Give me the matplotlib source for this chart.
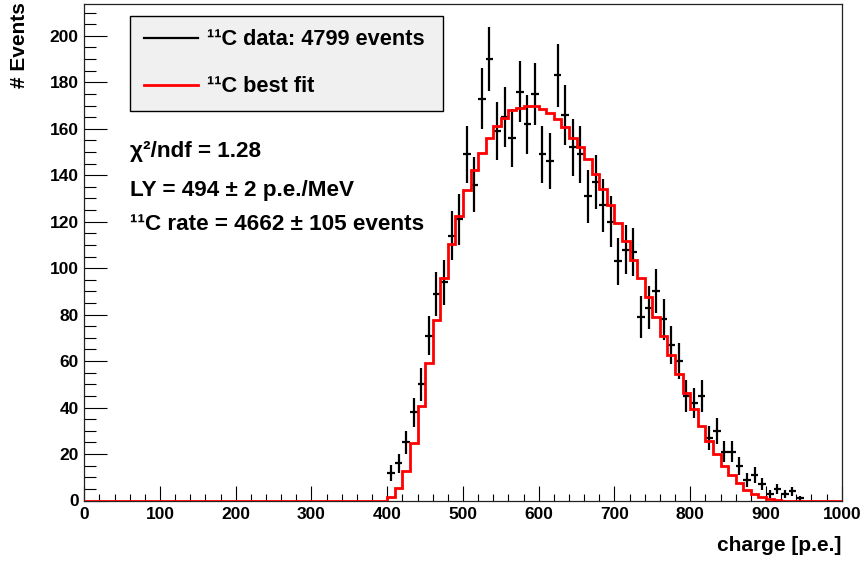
import numpy as np
import matplotlib
matplotlib.use("Agg")
import matplotlib.pyplot as plt
from matplotlib.lines import Line2D
from matplotlib.ticker import MultipleLocator

plt.rcParams['font.family'] = ['Liberation Sans', 'DejaVu Sans']
plt.rcParams['font.weight'] = 'bold'

# ---- data: 11C charge spectrum (bin width 10 p.e.) ----
data_charge = [405, 415, 425, 435, 445, 455, 465, 475, 485, 495,
               505, 515, 525, 535, 545, 555, 565, 575, 585, 595,
               605, 615, 625, 635, 645, 655, 665, 675, 685, 695,
               705, 715, 725, 735, 745, 755, 765, 775, 785, 795,
               805, 815, 825, 835, 845, 855, 865, 875, 885, 895,
               905, 915, 925, 935, 945]
data_counts = [12, 16, 25, 38, 50, 71, 89, 94, 114, 121,
               149, 136, 173, 190, 159, 165, 156, 176, 162, 175,
               149, 146, 183, 166, 152, 149, 131, 137, 127, 120,
               103, 108, 107, 79, 83, 90, 78, 67, 60, 45,
               42, 45, 27, 30, 21, 21, 15, 9, 11, 7,
               3, 5, 3, 4, 1]

# best-fit histogram, bins of 10 p.e. starting at 400
fit_start = 400
fit_values = [1.6, 5.5, 12.7, 24.9, 40.8, 59.0, 77.6, 95.6, 110.3, 122.5,
              133.5, 142.2, 149.6, 156.2, 161.1, 164.8, 168.0, 169.1, 169.7, 169.7,
              168.7, 166.8, 164.1, 160.8, 156.2, 152.2, 146.8, 140.4, 134.0, 127.1,
              119.6, 111.8, 103.7, 95.6, 87.4, 79.1, 70.8, 62.6, 54.4, 46.4,
              39.2, 32.0, 25.7, 20.0, 14.8, 11.0, 7.4, 4.5, 2.8, 1.4,
              0.5, 0.2]

bin_width = 10
x_min, x_max = 0, 1000

legend_labels = ["\u00b9\u00b9C data: 4799 events", "\u00b9\u00b9C best fit"]
info_lines = ["\u03c7\u00b2/ndf = 1.28",
              "LY = 494 \u00b1 2 p.e./MeV",
              "\u00b9\u00b9C rate = 4662 \u00b1 105 events"]

# ---- figure ----
fig = plt.figure(figsize=(8.63, 5.63), dpi=100)
ax = fig.add_axes([84.2 / 863, 1 - 500.5 / 563, 757.5 / 863, 496.5 / 563])

data_charge = np.asarray(data_charge, dtype=float)
data_counts = np.asarray(data_counts, dtype=float)
ax.errorbar(data_charge, data_counts, yerr=np.sqrt(data_counts), xerr=bin_width / 2,
            fmt='none', ecolor='black', elinewidth=1.6, capsize=0, zorder=2)

edges = np.arange(x_min, x_max + bin_width, bin_width)
fit_full = np.zeros(len(edges) - 1)
i0 = (fit_start - x_min) // bin_width
fit_full[i0:i0 + len(fit_values)] = fit_values
ax.stairs(fit_full, edges, color='red', linewidth=2.0, zorder=3)

ax.set_xlim(x_min, x_max)
ax.set_ylim(0, 213.7)

ax.xaxis.set_major_locator(MultipleLocator(100))
ax.xaxis.set_minor_locator(MultipleLocator(20))
ax.yaxis.set_major_locator(MultipleLocator(20))
ax.yaxis.set_minor_locator(MultipleLocator(5))

ax.tick_params(axis='x', which='major', direction='in', length=10.8, width=0.8,
               labelsize=12.5, pad=4.5, top=False)
ax.tick_params(axis='x', which='minor', direction='in', length=5.4, width=0.8, top=False)
ax.tick_params(axis='y', which='major', direction='in', length=16.5, width=0.8,
               labelsize=12.5, pad=4.0, right=False)
ax.tick_params(axis='y', which='minor', direction='in', length=8.3, width=0.8, right=False)
for lab in ax.get_xticklabels() + ax.get_yticklabels():
    lab.set_fontweight('bold')

for sp in ax.spines.values():
    sp.set_linewidth(0.9)
    sp.set_color('#222222')

ax.set_xlabel('charge [p.e.]', fontsize=15, fontweight='bold', loc='right')
ax.xaxis.set_label_coords(1.0, -0.072)
ax.set_ylabel('# Events', fontsize=15, fontweight='bold', loc='top')
ax.yaxis.set_label_coords(-0.0723, 1.004)

handles = [Line2D([], [], color='black', linewidth=1.6),
           Line2D([], [], color='red', linewidth=2.0)]
leg = ax.legend(handles, legend_labels, loc='upper left',
                bbox_to_anchor=(0.0605, 0.0, 0.4128, 0.9765), mode='expand',
                borderaxespad=0, fancybox=False, framealpha=1,
                facecolor='#f0f0f0', edgecolor='black',
                prop={'size': 15.7, 'weight': 'bold'},
                handlelength=2.5, handletextpad=0.4, borderpad=0.62,
                labelspacing=1.2)
leg.get_frame().set_linewidth(1.0)

baselines_px = [156.7, 196.0, 230.0]
for txt, bpx in zip(info_lines, baselines_px):
    ax.text(0.0605, (500.5 - bpx) / 496.5, txt, transform=ax.transAxes,
            ha='left', va='baseline', fontsize=16.2, fontweight='bold')

fig.savefig('out.png', dpi=100)
